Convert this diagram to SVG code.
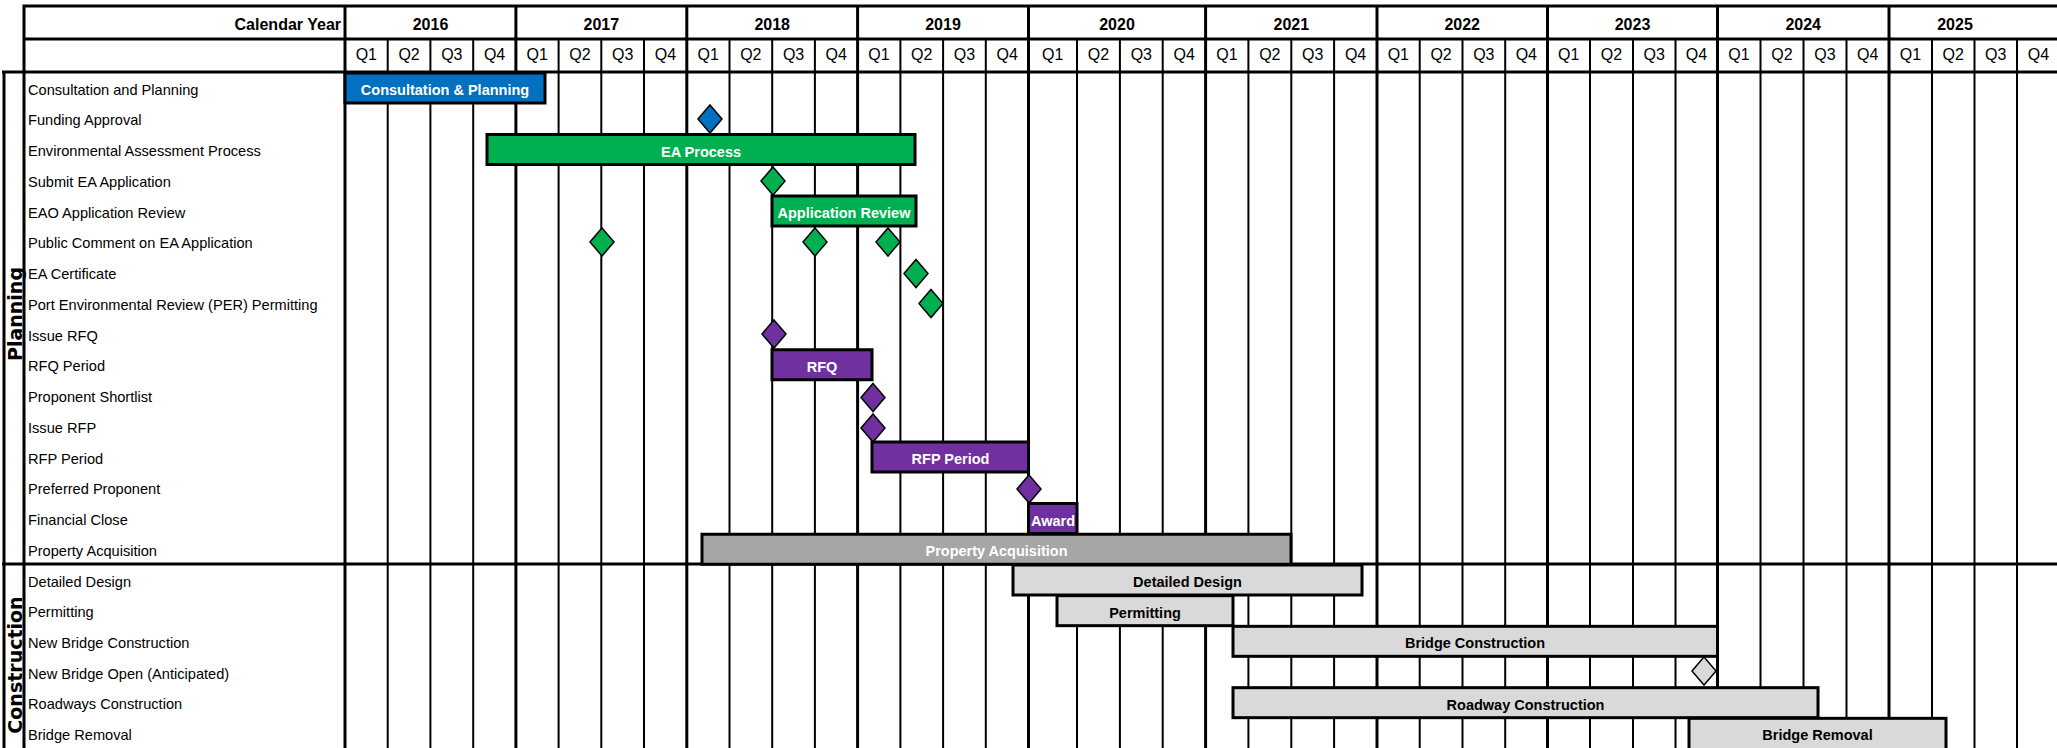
<svg xmlns="http://www.w3.org/2000/svg" xmlns:xlink="http://www.w3.org/1999/xlink" width="2057" height="748" viewBox="0 0 2057 748">
<style>
.lbl{font-family:"Liberation Sans",Arial,sans-serif;font-size:14.6px;fill:#000}
.bt{font-family:"Liberation Sans",Arial,sans-serif;font-weight:bold;font-size:14.5px;text-anchor:middle;fill:#fff}
.bt.dk{fill:#000}
.hy{font-family:"Liberation Sans",Arial,sans-serif;font-weight:bold;font-size:16px;text-anchor:middle;fill:#000}
.hq{font-family:"Liberation Sans",Arial,sans-serif;font-size:16px;text-anchor:middle;fill:#000}
.sec{font-family:"DejaVu Sans",Verdana,sans-serif;font-weight:bold;font-size:19px;text-anchor:middle;fill:#000}
.ql{stroke:#000;stroke-width:2;fill:none}
.yl{stroke:#000;stroke-width:3;fill:none}
.bar{stroke:#000;stroke-width:3}
.dm{stroke:#000;stroke-width:1.5}
.blue{fill:#0070C0}.green{fill:#00B050}.purple{fill:#7030A0}.pa{fill:#A6A6A6}.lg{fill:#D9D9D9}
</style>
<defs>
<path id="dia" d="M0,-14 L12,0 L0,14 L-12,0 Z"/>
</defs>
<rect x="0" y="0" width="2057" height="748" fill="#fff"/>
<g id="grid">
<path class="ql" d="M387.7,39V748M430.4,39V748M473.2,39V748M558.6,39V748M601.3,39V748M644,39V748M729.5,39V748M772.2,39V748M814.9,39V748M900.4,39V748M943.1,39V748M985.8,39V748M1077,39V748M1119.9,39V748M1162.7,39V748M1248.4,39V748M1291.3,39V748M1334.1,39V748M1419.7,39V748M1462.5,39V748M1505.2,39V748M1590,39V748M1633,39V748M1675.5,39V748M1760.5,39V748M1803.5,39V748M1846.5,39V748M1932,39V748M1974.5,39V748M2017,39V748"/>
<path class="yl" d="M345,6V748M515.9,6V748M686.8,6V748M857.6,6V748M1028.5,6V748M1205.6,6V748M1377,6V748M1547.5,6V748M1717.5,6V748M1889,6V748"/>
<path class="yl" d="M22.5,6H2057M24,39H2057M2,72H2057M2,564H2057M24,6V72M4,72V748M24,72V748"/>
</g>
<g id="header">
<text class="hy" x="341" y="30" style="text-anchor:end">Calendar Year</text>
<text class="hy" x="430.5" y="30">2016</text>
<text class="hy" x="601.3" y="30">2017</text>
<text class="hy" x="772.2" y="30">2018</text>
<text class="hy" x="943" y="30">2019</text>
<text class="hy" x="1117" y="30">2020</text>
<text class="hy" x="1291.3" y="30">2021</text>
<text class="hy" x="1462.2" y="30">2022</text>
<text class="hy" x="1632.5" y="30">2023</text>
<text class="hy" x="1803.2" y="30">2024</text>
<text class="hy" x="1955" y="30">2025</text>
<text class="hq" x="366.35" y="60">Q1</text><text class="hq" x="409.05" y="60">Q2</text><text class="hq" x="451.8" y="60">Q3</text><text class="hq" x="494.55" y="60">Q4</text>
<text class="hq" x="537.25" y="60">Q1</text><text class="hq" x="579.95" y="60">Q2</text><text class="hq" x="622.65" y="60">Q3</text><text class="hq" x="665.4" y="60">Q4</text>
<text class="hq" x="708.15" y="60">Q1</text><text class="hq" x="750.85" y="60">Q2</text><text class="hq" x="793.55" y="60">Q3</text><text class="hq" x="836.25" y="60">Q4</text>
<text class="hq" x="879" y="60">Q1</text><text class="hq" x="921.75" y="60">Q2</text><text class="hq" x="964.45" y="60">Q3</text><text class="hq" x="1007.15" y="60">Q4</text>
<text class="hq" x="1052.75" y="60">Q1</text><text class="hq" x="1098.45" y="60">Q2</text><text class="hq" x="1141.3" y="60">Q3</text><text class="hq" x="1184.15" y="60">Q4</text>
<text class="hq" x="1227" y="60">Q1</text><text class="hq" x="1269.85" y="60">Q2</text><text class="hq" x="1312.7" y="60">Q3</text><text class="hq" x="1355.55" y="60">Q4</text>
<text class="hq" x="1398.35" y="60">Q1</text><text class="hq" x="1441.1" y="60">Q2</text><text class="hq" x="1483.85" y="60">Q3</text><text class="hq" x="1526.35" y="60">Q4</text>
<text class="hq" x="1568.75" y="60">Q1</text><text class="hq" x="1611.5" y="60">Q2</text><text class="hq" x="1654.25" y="60">Q3</text><text class="hq" x="1696.5" y="60">Q4</text>
<text class="hq" x="1739" y="60">Q1</text><text class="hq" x="1782" y="60">Q2</text><text class="hq" x="1825" y="60">Q3</text><text class="hq" x="1867.75" y="60">Q4</text>
<text class="hq" x="1910.5" y="60">Q1</text><text class="hq" x="1953.25" y="60">Q2</text><text class="hq" x="1995.75" y="60">Q3</text><text class="hq" x="2038.5" y="60">Q4</text>
</g>
<g id="sections">
<text class="sec" transform="translate(21.5,314) rotate(-90)">Planning</text>
<text class="sec" transform="translate(21.5,665) rotate(-90)">Construction</text>
</g>
<g id="row-labels">
<text class="lbl" x="28" y="94.7">Consultation and Planning</text>
<text class="lbl" x="28" y="125.45">Funding Approval</text>
<text class="lbl" x="28" y="156.2">Environmental Assessment Process</text>
<text class="lbl" x="28" y="186.95">Submit EA Application</text>
<text class="lbl" x="28" y="217.7">EAO Application Review</text>
<text class="lbl" x="28" y="248.45">Public Comment on EA Application</text>
<text class="lbl" x="28" y="279.2">EA Certificate</text>
<text class="lbl" x="28" y="309.95">Port Environmental Review (PER) Permitting</text>
<text class="lbl" x="28" y="340.7">Issue RFQ</text>
<text class="lbl" x="28" y="371.45">RFQ Period</text>
<text class="lbl" x="28" y="402.2">Proponent Shortlist</text>
<text class="lbl" x="28" y="432.95">Issue RFP</text>
<text class="lbl" x="28" y="463.7">RFP Period</text>
<text class="lbl" x="28" y="494.45">Preferred Proponent</text>
<text class="lbl" x="28" y="525.2">Financial Close</text>
<text class="lbl" x="28" y="555.95">Property Acquisition</text>
<text class="lbl" x="28" y="586.7">Detailed Design</text>
<text class="lbl" x="28" y="617.4">Permitting</text>
<text class="lbl" x="28" y="648">New Bridge Construction</text>
<text class="lbl" x="28" y="678.7">New Bridge Open (Anticipated)</text>
<text class="lbl" x="28" y="709.4">Roadways Construction</text>
<text class="lbl" x="28" y="740">Bridge Removal</text>
</g>
<g id="bar-consultation"><rect class="bar blue" x="345" y="73" width="200" height="30"/><text class="bt" x="445" y="95">Consultation &amp; Planning</text></g>
<g id="ms-funding"><use xlink:href="#dia" class="dm blue" x="710" y="119"/></g>
<g id="bar-ea"><rect class="bar green" x="487" y="134.5" width="428" height="30"/><text class="bt" x="701" y="156.5">EA Process</text></g>
<g id="ms-submit-ea"><use xlink:href="#dia" class="dm green" x="773" y="181"/></g>
<g id="bar-app-review"><rect class="bar green" x="772" y="196" width="144" height="30"/><text class="bt" x="844" y="218">Application Review</text></g>
<g id="ms-public-comment"><use xlink:href="#dia" class="dm green" x="602" y="242"/><use xlink:href="#dia" class="dm green" x="815" y="242"/><use xlink:href="#dia" class="dm green" x="888" y="242"/></g>
<g id="ms-ea-cert"><use xlink:href="#dia" class="dm green" x="916" y="273.5"/></g>
<g id="ms-per"><use xlink:href="#dia" class="dm green" x="931" y="303.5"/></g>
<g id="ms-issue-rfq"><use xlink:href="#dia" class="dm purple" x="774" y="334"/></g>
<g id="bar-rfq"><rect class="bar purple" x="772" y="349.75" width="100" height="30"/><text class="bt" x="822" y="371.75">RFQ</text></g>
<g id="ms-shortlist"><use xlink:href="#dia" class="dm purple" x="873" y="397.5"/></g>
<g id="ms-issue-rfp"><use xlink:href="#dia" class="dm purple" x="873" y="428"/></g>
<g id="bar-rfp"><rect class="bar purple" x="872" y="442" width="156.5" height="30"/><text class="bt" x="950.5" y="464">RFP Period</text></g>
<g id="ms-preferred"><use xlink:href="#dia" class="dm purple" x="1029" y="489"/></g>
<g id="bar-award"><rect class="bar purple" x="1028.5" y="503.5" width="48.5" height="30"/><text class="bt" x="1053" y="525.5">Award</text></g>
<g id="bar-property"><rect class="bar pa" x="702" y="534.25" width="589" height="30"/><text class="bt" x="996.5" y="556.25">Property Acquisition</text></g>
<g id="bar-design"><rect class="bar lg" x="1013" y="565" width="349" height="30"/><text class="bt dk" x="1187.5" y="587">Detailed Design</text></g>
<g id="bar-permitting"><rect class="bar lg" x="1057" y="595.67" width="176" height="30"/><text class="bt dk" x="1145" y="617.67">Permitting</text></g>
<g id="bar-bridge"><rect class="bar lg" x="1233" y="626.33" width="484.5" height="30"/><text class="bt dk" x="1475" y="648.33">Bridge Construction</text></g>
<g id="ms-bridge-open"><use xlink:href="#dia" class="dm lg" x="1704" y="671"/></g>
<g id="bar-roadway"><rect class="bar lg" x="1233" y="687.67" width="585" height="30"/><text class="bt dk" x="1525.5" y="709.67">Roadway Construction</text></g>
<g id="bar-removal"><rect class="bar lg" x="1689" y="718.33" width="257" height="40"/><text class="bt dk" x="1817.5" y="740.33">Bridge Removal</text></g>
</svg>
